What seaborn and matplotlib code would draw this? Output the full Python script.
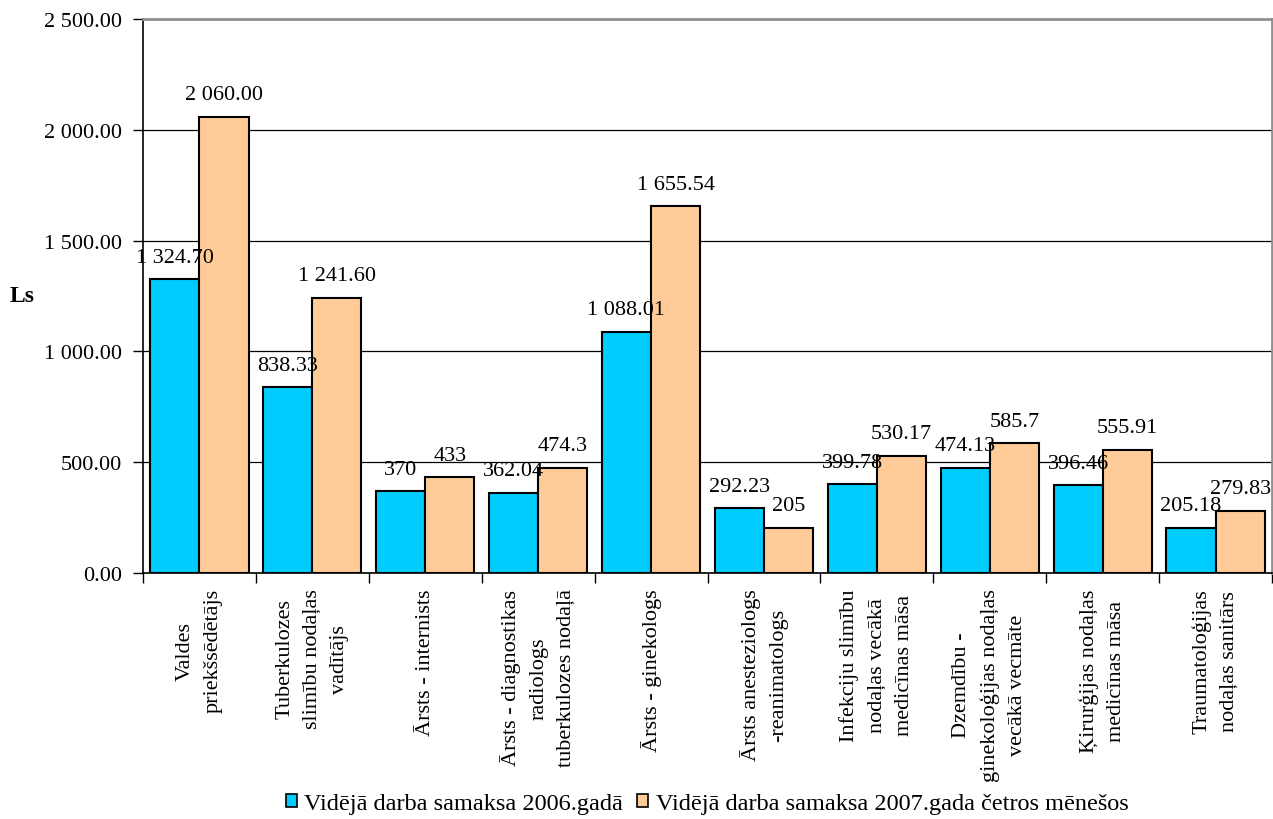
import matplotlib
matplotlib.use("Agg")
import matplotlib.pyplot as plt
import numpy as np
import pandas as pd
import seaborn as sns
from matplotlib.ticker import FixedLocator, FuncFormatter

# --- data ---
categories = [
    "Valdes\npriekšsēdētājs",
    "Tuberkulozes\nslimību nodaļas\nvadītājs",
    "Ārsts - internists",
    "Ārsts - diagnostikas\nradiologs\ntuberkulozes nodaļā",
    "Ārsts - ginekologs",
    "Ārsts anesteziologs\n-reanimatologs",
    "Infekciju slimību\nnodaļas vecākā\nmedicīnas māsa",
    "Dzemdību -\nginekoloģijas nodaļas\nvecākā vecmāte",
    "Ķirurģijas nodaļas\nmedicīnas māsa",
    "Traumatoloģijas\nnodaļas sanitārs",
]
series_names = ["Vidējā darba samaksa 2006.gadā",
                "Vidējā darba samaksa 2007.gada četros mēnešos"]
values_2006 = [1324.70, 838.33, 370, 362.04, 1088.01, 292.23, 399.78, 474.13, 396.46, 205.18]
values_2007 = [2060.00, 1241.60, 433, 474.3, 1655.54, 205, 530.17, 585.7, 555.91, 279.83]
labels_2006 = ["1 324.70", "838.33", "370", "362.04", "1 088.01",
               "292.23", "399.78", "474.13", "396.46", "205.18"]
labels_2007 = ["2 060.00", "1 241.60", "433", "474.3", "1 655.54",
               "205", "530.17", "585.7", "555.91", "279.83"]
y_ticks = [0, 500, 1000, 1500, 2000, 2500]

colors = ["#00CCFF", "#FFCC99"]

df = pd.DataFrame({
    "cat": categories * 2,
    "series": [series_names[0]] * len(categories) + [series_names[1]] * len(categories),
    "value": values_2006 + values_2007,
})

sns.set_theme(style="white")
plt.rcParams["font.family"] = ["Liberation Serif", "DejaVu Serif"]
plt.rcParams.update({"text.color": "black", "axes.labelcolor": "black",
                     "xtick.color": "black", "ytick.color": "black"})

fig = plt.figure(figsize=(12.73, 8.2), dpi=100)
ax = fig.add_axes([143 / 1273, 1 - 574 / 820, 1129 / 1273, 554 / 820])

sns.barplot(data=df, x="cat", y="value", hue="series", palette=colors,
            order=categories, hue_order=series_names, width=0.87,
            edgecolor="black", linewidth=1.5, saturation=1, ax=ax, legend=False)

for cont, labs in zip(ax.containers, [labels_2006, labels_2007]):
    ax.bar_label(cont, labels=labs, padding=9, fontsize=16, color="black")

ax.set_xlim(-0.5, len(categories) - 0.5)
ax.set_ylim(0, 2500)
ax.yaxis.set_major_locator(FixedLocator(y_ticks))
ax.yaxis.set_major_formatter(FuncFormatter(lambda v, p: f"{v:,.2f}".replace(",", " ")))
ax.tick_params(axis="y", direction="out", length=7, width=1, pad=8, labelsize=16,
               left=True, colors="black")
ax.grid(axis="y", color="black", linewidth=0.9)
ax.set_axisbelow(True)

# category labels at centres, tick marks at boundaries
ax.set_xticks(range(len(categories)))
ax.set_xticklabels(categories, rotation=90, ha="center", va="top",
                   multialignment="center", linespacing=1.6, fontsize=16)
ax.tick_params(axis="x", which="major", length=0, pad=11, labelcolor="black")
ax.set_xticks(np.arange(-0.5, len(categories), 1.0), minor=True)
ax.tick_params(axis="x", which="minor", direction="out", length=7, width=1,
               bottom=True, color="black")
ax.set_xlabel("")

ax.set_ylabel("Ls", rotation=0, fontweight="bold", fontsize=17, ha="center", va="center")
ax.yaxis.set_label_coords(-0.107, 0.5)

for side in ["left", "bottom"]:
    ax.spines[side].set_color("black")
    ax.spines[side].set_linewidth(1.2)
for side in ["top", "right"]:
    ax.spines[side].set_color("#909090")
    ax.spines[side].set_linewidth(2)

handles = [plt.Rectangle((0, 0), 1, 1, facecolor=c, edgecolor="black", linewidth=1.2)
           for c in colors]
fig.legend(handles, series_names, loc="center", bbox_to_anchor=(707 / 1273, 1 - 805 / 820),
           ncol=2, frameon=False, fontsize=17.5, handlelength=0.45, handleheight=0.45,
           handletextpad=0.3, columnspacing=0.6, borderpad=0)

fig.savefig("out.png", dpi=100)
